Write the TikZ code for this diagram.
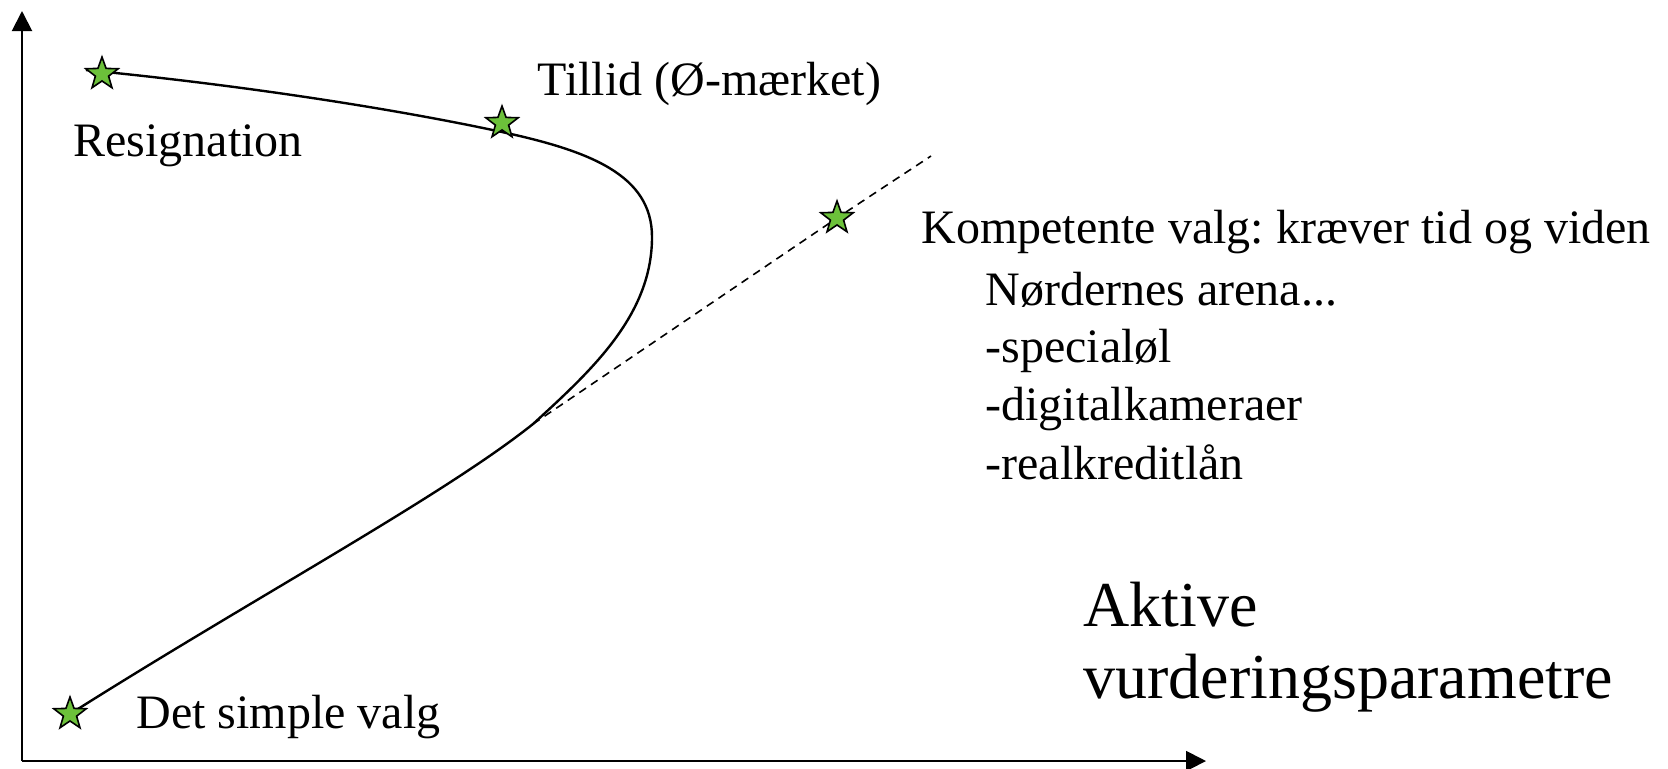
\documentclass[tikz,border=0pt]{standalone}
\usepackage{fontspec}
\setmainfont{Liberation Serif}
\usetikzlibrary{shapes.geometric, arrows.meta, positioning, calc, backgrounds}
\definecolor{stargreen}{HTML}{6CC13A}
\frenchspacing

\begin{document}
\begin{tikzpicture}[
    x=0.5pt, y=-0.5pt,
    % ── Node styles ──────────────────────────────────────────────────────
    starnode/.style={
        star, star points=5, star point ratio=2.45,
        draw=black, line width=0.8pt, fill=stargreen,
        minimum size=17pt, inner sep=0pt
    },
    lbl/.style={
        font=\fontsize{24}{29}\selectfont,
        inner sep=0pt, anchor=base west
    },
    biglbl/.style={
        font=\fontsize{32}{38}\selectfont,
        inner sep=0pt, anchor=base west
    },
    % ── Line styles ──────────────────────────────────────────────────────
    axis/.style={
        line width=1pt, -{Triangle[length=10pt, width=10pt]}
    },
    curveline/.style={line width=1.2pt},
    branchline/.style={line width=0.8pt, dash pattern=on 4pt off 3pt}
]
\useasboundingbox (0,0) rectangle (1668,768);

% ═══════════════════════════════════════════════════════════════════════════
% Axes
% ═══════════════════════════════════════════════════════════════════════════
\coordinate (origin) at (22,761);
\coordinate (ytip) at (22,11);
\coordinate (xtip) at (1206,761);
\draw[axis] (origin) -- (ytip);
\draw[axis] (origin) -- (xtip);

% ═══════════════════════════════════════════════════════════════════════════
% Stars
% ═══════════════════════════════════════════════════════════════════════════
\node[starnode] (resig) at (102,74) {};
\node[starnode] (tillid) at (502,123) {};
\node[starnode] (kompet) at (837,218) {};
\node[starnode] (simple) at (70,714) {};

% ═══════════════════════════════════════════════════════════════════════════
% Curve and dashed branch (behind the stars)
% ═══════════════════════════════════════════════════════════════════════════
\coordinate (cstart) at (86,70);
\coordinate (cpass) at (502,132);
\coordinate (bend) at (652,237);
\coordinate (branch) at (533,424);
\coordinate (dashend) at (931,156);

\begin{scope}[on background layer]
    \draw[curveline] (cstart)
        .. controls (250,86) and (400,110) .. (cpass)
        .. controls (590,151) and (652,175) .. (bend)
        .. controls (652,315) and (592,370) .. (branch)
        .. controls (443,496) and (250,600) .. (simple.center);
    \draw[branchline] (branch) -- (kompet.center) -- (dashend);
\end{scope}

% ═══════════════════════════════════════════════════════════════════════════
% Labels
% ═══════════════════════════════════════════════════════════════════════════
\node[lbl] (tilliddesc) at (537,95) {Tillid (Ø-mærket)};
\node[lbl] (resigdesc) at (73,156) {Resignation};
\node[lbl] (simpledesc) at (136,728) {Det simple valg};

\node[lbl] (kompdesc) at (921,243) {Kompetente valg: kræver tid og viden};
\node[lbl] (nerd) at (985,305) {Nørdernes arena...};
\node[lbl] (ex1) at (985,362) {-specialøl};
\node[lbl] (ex2) at (985,420) {-digitalkameraer};
\node[lbl] (ex3) at (985,479) {-realkreditlån};

\node[biglbl] (xlabel1) at (1083,626) {Aktive};
\node[biglbl] (xlabel2) at (1083,698) {vurderingsparametre};

\end{tikzpicture}
\end{document}
